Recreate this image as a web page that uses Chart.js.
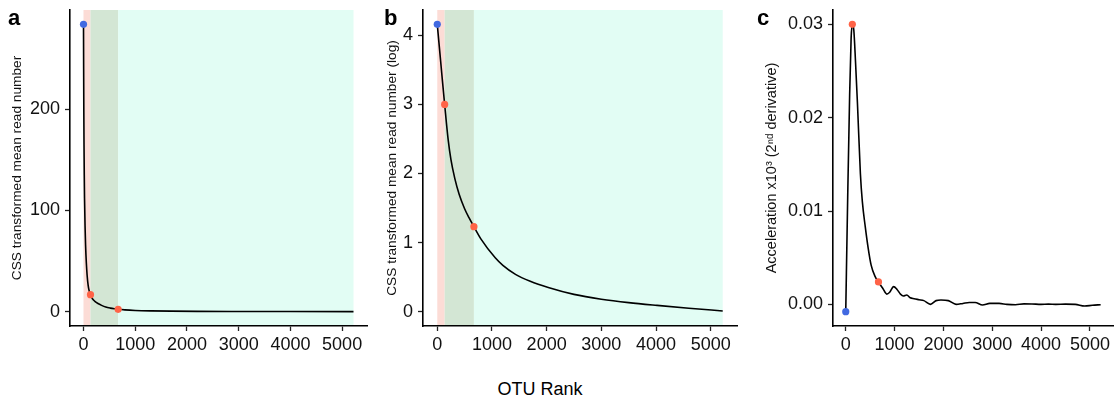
<!DOCTYPE html>
<html>
<head>
<meta charset="utf-8">
<script src="https://cdn.jsdelivr.net/npm/chart.js@4.4.1/dist/chart.umd.min.js"></script>
<style>
  html, body { margin: 0; padding: 0; background: #fff; }
  #fig { position: relative; width: 1117px; height: 405px; overflow: hidden;
         font-family: 'Liberation Sans', Arial, Helvetica, sans-serif; }
  #fig canvas { position: absolute; top: 0; }
  .tag { position: absolute; top: 7px; font-size: 22px; font-weight: bold; line-height: 22px; color: #000; }
  #xtitle { position: absolute; left: 440px; width: 200px; top: 379px; text-align: center;
            font-size: 18px; line-height: 20px; color: #000; }
</style>
</head>
<body>
<div id="fig">
  <canvas id="panelA" width="372" height="365" style="left:0px"></canvas>
  <canvas id="panelB" width="370" height="365" style="left:372px"></canvas>
  <canvas id="panelC" width="372" height="365" style="left:745px"></canvas>
  <div class="tag" style="left:8px">a</div>
  <div class="tag" style="left:384px">b</div>
  <div class="tag" style="left:757px">c</div>
  <div id="xtitle">OTU Rank</div>
</div>
<script>
// ---- data ----------------------------------------------------------------
// OTU rank (x) shared tick marks
const rankTicks = [0, 1000, 2000, 3000, 4000, 5000];
const rankMax = 5220;

// rank breakpoints for the shaded zones
const zoneEdges = [0, 135, 670, 5220];
const zoneColors = ['#fcdcd6', '#d3e6d4', '#e2fdf4'];

// panel a: CSS transformed mean read number
const rankA  = [0, 3, 6, 10, 15, 20, 30, 40, 55, 70, 90, 110, 135, 170, 220, 280, 350, 430, 520, 600, 670, 800, 1000, 1300, 1700, 2200, 3000, 4000, 5220];
const readA  = [284, 240, 200, 165, 135, 112, 85, 66, 48, 36, 26, 20.5, 16.8, 13.0, 10.2, 8.0, 6.2, 4.6, 3.5, 2.8, 2.3, 1.7, 1.15, 0.75, 0.48, 0.3, 0.17, 0.09, 0.02];
const yTicksA = [0, 100, 200];

// panel b: same on log scale
const rankB  = [0, 30, 60, 90, 135, 199, 250, 320, 400, 500, 580, 670, 800, 1060, 1200, 1430, 1700, 2030, 2500, 3000, 3500, 4020, 4600, 5220];
const logReadB = [4.16, 3.9, 3.64, 3.38, 3.0, 2.49, 2.2, 1.93, 1.70, 1.49, 1.36, 1.23, 1.05, 0.78, 0.67, 0.54, 0.44, 0.35, 0.25, 0.18, 0.13, 0.09, 0.05, 0.01];
const yTicksB = [0, 1, 2, 3, 4];

// panel c: acceleration (2nd derivative) x10^3
const rankC  = [0, 40, 80, 110, 135, 165, 200, 240, 300, 340, 400, 460, 520, 600, 670, 760, 840, 900, 980, 1050, 1120, 1180, 1250, 1320, 1400, 1500, 1600, 1735, 1850, 1950, 2100, 2260, 2400, 2530, 2650, 2800, 2950, 3140, 3300, 3475, 3650, 3812, 4000, 4150, 4300, 4500, 4700, 4892, 5050, 5220];
const accelC = [-0.00078, 0.0115, 0.0225, 0.0285, 0.0300, 0.0294, 0.026, 0.0215, 0.014, 0.011, 0.0083, 0.006, 0.0042, 0.003, 0.0024, 0.0017, 0.0011, 0.0013, 0.0019, 0.0016, 0.0011, 0.0009, 0.001, 0.0007, 0.0006, 0.0005, 0.0004, 0.0, 0.0004, 0.00046, 0.0004, 0.0, 0.0001, 0.0002, 0.0002, -0.00007, 0.0001, 0.0001, 0.0, -0.00004, 0.00005, 0.00004, 0.0, 0.00003, 0.0, 0.00002, 0.0, -0.00018, -0.0001, -0.00004];
const yTicksC = [0, 0.01, 0.02, 0.03];

// highlighted points: [rank, value]
const startA = [[0, 284]];
const kneesA = [[135, 16.8], [670, 2.3]];
const startB = [[0, 4.16]];
const kneesB = [[135, 3.0], [670, 1.23]];
const startC = [[0, -0.00078]];
const kneesC = [[135, 0.0300], [670, 0.0024]];

// ---- helpers -------------------------------------------------------------
Chart.defaults.font.family = "'Liberation Sans', Arial, Helvetica, sans-serif";
Chart.defaults.color = '#111';

const BLUE = '#4169e1';
const RED = '#ff6347';
const pairs = (xs, ys) => xs.map((x, i) => ({ x: x, y: ys[i] }));
const pts = (arr) => arr.map(p => ({ x: p[0], y: p[1] }));

function expand(lo, hi, f) { const d = (hi - lo) * f; return [lo - d, hi + d]; }

// shaded rank zones behind the curve
const zonePlugin = {
  id: 'zones',
  beforeDraw(chart, args, opts) {
    if (!opts.show) return;
    const { ctx, chartArea, scales } = chart;
    ctx.save();
    for (let i = 0; i < zoneColors.length; i++) {
      const x0 = scales.x.getPixelForValue(zoneEdges[i]);
      const x1 = scales.x.getPixelForValue(zoneEdges[i + 1]);
      ctx.fillStyle = zoneColors[i];
      ctx.fillRect(x0, chartArea.top, x1 - x0, chartArea.bottom - chartArea.top);
    }
    ctx.restore();
  }
};

// fixed axis box sizes so every panel keeps the same plot frame
function fixBox(size, horizontal) {
  return (s) => {
    if (horizontal) s.height = size; else s.width = size;
    s.paddingTop = 0; s.paddingBottom = 0; s.paddingLeft = 0; s.paddingRight = 0;
  };
}

function makePanel(id, cfg) {
  const [xmin, xmax] = expand(0, rankMax, 0.05);
  const [ymin, ymax] = expand(cfg.ylo, cfg.yhi, 0.05);
  return new Chart(document.getElementById(id), {
    type: 'scatter',
    data: {
      datasets: [
        { data: pts(cfg.start), pointRadius: 3.6, pointHoverRadius: 3.6, pointBackgroundColor: BLUE, pointBorderWidth: 0, showLine: false, order: 0 },
        { data: pts(cfg.knees), pointRadius: 3.6, pointHoverRadius: 3.6, pointBackgroundColor: RED, pointBorderWidth: 0, showLine: false, order: 0 },
        { data: pairs(cfg.xs, cfg.ys), showLine: true, borderColor: '#000', borderWidth: 1.6, pointRadius: 0,
          cubicInterpolationMode: 'monotone', order: 1 }
      ]
    },
    options: {
      responsive: false,
      animation: false,
      devicePixelRatio: 1,
      events: [],
      layout: { padding: { top: 10, right: cfg.padRight, left: 0, bottom: 0 } },
      plugins: { legend: { display: false }, tooltip: { enabled: false }, zones: { show: cfg.zones } },
      scales: {
        x: {
          type: 'linear', min: xmin, max: xmax,
          afterBuildTicks: (s) => { s.ticks = rankTicks.map(v => ({ value: v })); },
          afterFit: fixBox(39, true),
          grid: { drawOnChartArea: false, drawTicks: true, tickLength: 5, tickWidth: 1.3, tickColor: '#222' },
          border: { display: true, color: '#000', width: 1.6 },
          ticks: { font: { size: 18 }, color: '#111', padding: 3, maxRotation: 0, autoSkip: false,
                    callback: (v) => String(v) }
        },
        y: {
          type: 'linear', min: ymin, max: ymax,
          afterBuildTicks: (s) => { s.ticks = cfg.yticks.map(v => ({ value: v })); },
          afterFit: fixBox(cfg.yWidth, false),
          grid: { drawOnChartArea: false, drawTicks: true, tickLength: 5, tickWidth: 1.3, tickColor: '#222' },
          border: { display: true, color: '#000', width: 1.6 },
          ticks: { font: { size: 18 }, color: '#111', padding: 5, autoSkip: false, callback: cfg.fmt },
          title: { display: true, text: cfg.ytitle, font: { size: cfg.titleSize }, color: '#111',
                   padding: { top: cfg.titlePad, bottom: 0 } }
        }
      }
    },
    plugins: [zonePlugin]
  });
}

makePanel('panelA', {
  xs: rankA, ys: readA, ylo: 0, yhi: 284, yticks: yTicksA, start: startA, knees: kneesA,
  yWidth: 70, padRight: 5, titlePad: 9, titleSize: 13.7, zones: true,
  ytitle: 'CSS transformed mean read number', fmt: (v) => String(v)
});
makePanel('panelB', {
  xs: rankB, ys: logReadB, ylo: 0, yhi: 4.16, yticks: yTicksB, start: startB, knees: kneesB,
  yWidth: 51, padRight: 5, titlePad: 12, titleSize: 13.7, zones: true,
  ytitle: 'CSS transformed mean read number (log)', fmt: (v) => String(v)
});
makePanel('panelC', {
  xs: rankC, ys: accelC, ylo: -0.00078, yhi: 0.0300, yticks: yTicksC, start: startC, knees: kneesC,
  yWidth: 88, padRight: 2, titlePad: 18, titleSize: 14.5, zones: false,
  ytitle: 'Acceleration x10\u00B3 (2\u207F\u1D48 derivative)', fmt: (v) => v.toFixed(2)
});
</script>
</body>
</html>
